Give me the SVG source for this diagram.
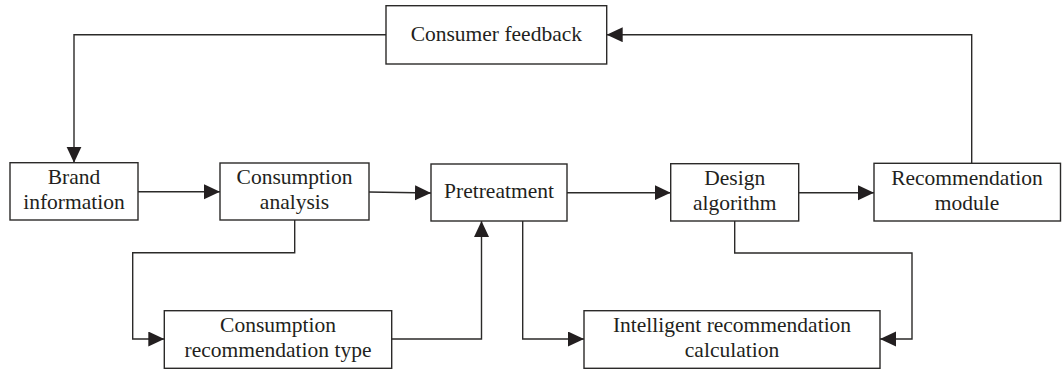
<svg xmlns="http://www.w3.org/2000/svg" width="1062" height="372" viewBox="0 0 1062 372">
  <style>
    .box { fill: #ffffff; stroke: #2b2a29; stroke-width: 1.4; }
    .lbl { font-family: "Liberation Serif", "Times New Roman", serif; font-size: 21.5px; fill: #231f20; text-anchor: middle; }
    .wire { fill: none; stroke: #2b2a29; stroke-width: 1.4; }
    .arrow { marker-end: url(#head); }
  </style>
  <defs>
    <marker id="head" markerUnits="userSpaceOnUse" markerWidth="17" markerHeight="16" refX="16" refY="7.5" orient="auto">
      <path d="M0,0 L16,7.5 L0,15 Z" fill="#231f20"/>
    </marker>
  </defs>
  <rect width="1062" height="372" fill="#ffffff"/>

  <!-- connectors -->
  <g id="connectors">
    <polyline class="wire arrow" points="386,34.7 74,34.7 74,162.7"/>
    <polyline class="wire arrow" points="971.7,163.3 971.7,34.7 606.7,34.7"/>
    <line class="wire arrow" x1="138" y1="191.7" x2="220" y2="191.7"/>
    <line class="wire arrow" x1="369" y1="192" x2="431" y2="193"/>
    <line class="wire arrow" x1="567" y1="192.7" x2="670.7" y2="192.7"/>
    <line class="wire arrow" x1="798.7" y1="192.7" x2="874" y2="192.7"/>
    <polyline class="wire arrow" points="294.7,220 294.7,252.7 132.7,252.7 132.7,339 164.3,339"/>
    <polyline class="wire arrow" points="391.7,339 481.5,339 481.5,221"/>
    <polyline class="wire arrow" points="522.7,221 522.7,339 584,339"/>
    <polyline class="wire arrow" points="734.7,221 734.7,253 912,253 912,339 880,339"/>
  </g>

  <!-- nodes -->
  <g id="consumer-feedback">
    <rect class="box" x="386" y="5.7" width="220.7" height="58.3"/>
    <text class="lbl" x="496.3" y="40.7">Consumer feedback</text>
  </g>
  <g id="brand-information">
    <rect class="box" x="10" y="162.7" width="128" height="57.3"/>
    <text class="lbl" x="74" y="184">Brand</text>
    <text class="lbl" x="74" y="209">information</text>
  </g>
  <g id="consumption-analysis">
    <rect class="box" x="220" y="163" width="149" height="57"/>
    <text class="lbl" x="294.5" y="184">Consumption</text>
    <text class="lbl" x="294.5" y="209">analysis</text>
  </g>
  <g id="pretreatment">
    <rect class="box" x="431" y="164" width="136" height="57"/>
    <text class="lbl" x="499" y="198">Pretreatment</text>
  </g>
  <g id="design-algorithm">
    <rect class="box" x="670.7" y="163.7" width="128" height="57.3"/>
    <text class="lbl" x="734.7" y="185">Design</text>
    <text class="lbl" x="734.7" y="210">algorithm</text>
  </g>
  <g id="recommendation-module">
    <rect class="box" x="874" y="163.3" width="186.5" height="57.7"/>
    <text class="lbl" x="967" y="185">Recommendation</text>
    <text class="lbl" x="967" y="210">module</text>
  </g>
  <g id="consumption-recommendation-type">
    <rect class="box" x="164.3" y="310.7" width="227.4" height="57.6"/>
    <text class="lbl" x="278" y="331.7">Consumption</text>
    <text class="lbl" x="278" y="356.7">recommendation type</text>
  </g>
  <g id="intelligent-recommendation-calculation">
    <rect class="box" x="584" y="310.7" width="296" height="57.6"/>
    <text class="lbl" x="732" y="331.7">Intelligent recommendation</text>
    <text class="lbl" x="732" y="356.7">calculation</text>
  </g>
</svg>
